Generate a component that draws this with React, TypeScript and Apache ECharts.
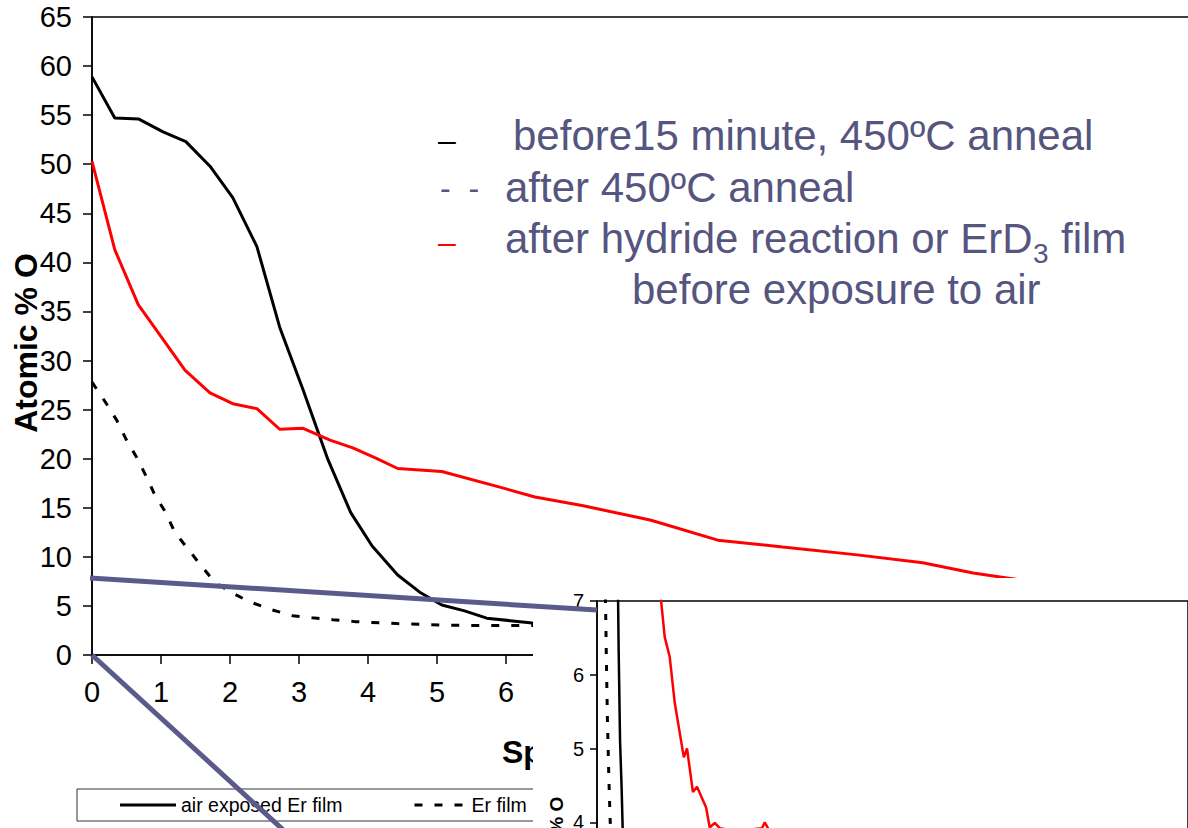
import React, { useEffect, useRef } from 'react';
import * as echarts from 'echarts';

// Sputter time (min) and atomic % O
const airTime = [0, 0.33, 0.68, 1.03, 1.36, 1.71, 2.04, 2.39, 2.72, 3.06, 3.42, 3.75, 4.06, 4.43, 4.75, 5.07, 5.4, 5.72, 6.06, 6.38, 6.8];
const airO = [58.9, 54.7, 54.6, 53.3, 52.3, 49.8, 46.6, 41.6, 33.4, 27.0, 19.9, 14.5, 11.1, 8.15, 6.4, 5.1, 4.5, 3.75, 3.5, 3.25, 3.1];

const annTime = [0, 0.2, 0.36, 0.5, 0.65, 0.8, 0.91, 1.07, 1.2, 1.38, 1.57, 1.78, 2.04, 2.29, 2.61, 2.91, 3.19, 3.49, 3.81, 4.42, 5.07, 5.72, 6.38, 6.8];
const annO = [27.8, 25.7, 23.9, 21.9, 20.1, 18.0, 16.3, 14.5, 12.5, 10.9, 9.2, 7.4, 6.3, 5.4, 4.6, 4.0, 3.8, 3.6, 3.4, 3.2, 3.05, 3.0, 3.0, 2.95];

const hydTime = [0, 0.33, 0.67, 1.35, 1.71, 2.04, 2.39, 2.72, 3.06, 3.45, 3.78, 4.13, 4.43, 5.07, 5.91, 6.42, 7.12, 8.09, 9.07, 10.01, 11.09, 12.04, 12.77, 13.26, 14.1, 14.9, 16.0, 17.1, 19.1, 19.8, 21.1, 22.0, 24.0, 24.8, 25.9, 27.0, 30.5, 33.5, 36.3, 36.9, 38.2];
const hydO = [50.3, 41.3, 35.7, 29.0, 26.7, 25.6, 25.1, 23.0, 23.1, 21.9, 21.1, 20.0, 19.0, 18.7, 17.1, 16.1, 15.2, 13.75, 11.7, 11.0, 10.2, 9.4, 8.35, 7.85, 7.0, 6.51, 6.24, 5.62, 4.88, 5.0, 4.41, 4.48, 4.2, 3.93, 3.99, 3.92, 3.88, 3.9, 3.92, 4.0, 3.85];

const seriesNames = ['air exposed Er film', 'Er film', 'ErD3 film'];
const annotationLines = [
  'before15 minute, 450ºC anneal',
  'after 450ºC anneal',
  'after hydride reaction or ErD',
  '3',
  'film',
  'before exposure to air',
];
const mainLastXLabel = 6;

const pairs = (xs: number[], ys: number[]) => xs.map((x, i) => [x, ys[i]]);

export default function App() {
  const ref = useRef<HTMLDivElement>(null);
  useEffect(() => {
    const chart = echarts.init(ref.current!, null, { renderer: 'svg' });
    const font = 'Liberation Sans, Arial, sans-serif';
    const slate = '#55557f';
    const blue = '#5b5b8b';
    const axisLine = { show: true, onZero: false, lineStyle: { color: '#000', width: 1.5 } };
    chart.setOption({
      animation: false,
      textStyle: { fontFamily: font },
      grid: [
        { left: 92, top: 17, right: -8, bottom: 173, outerBoundsMode: 'none', containLabel: false, show: true, borderColor: '#000', borderWidth: 1.5, backgroundColor: 'transparent', z: 0 },
        { left: 597, top: 601, right: 0, bottom: -68, outerBoundsMode: 'none', containLabel: false, show: true, borderColor: '#000', borderWidth: 1.5, backgroundColor: 'transparent', z: 6 },
      ],
      xAxis: [
        {
          gridIndex: 0, type: 'value', min: 0, max: 16, interval: 1,
          axisLine, axisTick: { show: true, length: 9, lineStyle: { color: '#000', width: 1.5 } },
          axisLabel: {
            fontSize: 29, color: '#000', margin: 22, fontFamily: font,
            formatter: (v: number) => (v <= mainLastXLabel ? String(v) : ''),
          },
          splitLine: { show: false },
        },
        { gridIndex: 1, type: 'value', min: 0, max: 130, show: false, splitLine: { show: false } },
      ],
      yAxis: [
        {
          gridIndex: 0, type: 'value', min: 0, max: 65, interval: 5,
          axisLine, axisTick: { show: true, length: 9, lineStyle: { color: '#000', width: 1.5 } },
          axisLabel: { fontSize: 29, color: '#000', margin: 20, fontFamily: font },
          splitLine: { show: false },
        },
        {
          gridIndex: 1, type: 'value', min: 3, max: 7, interval: 1, z: 6,
          axisLine, axisTick: { show: true, length: 7, lineStyle: { color: '#000', width: 1.5 } },
          axisLabel: { fontSize: 20, color: '#000', margin: 13, fontFamily: font },
          splitLine: { show: false },
        },
      ],
      legend: {
        left: 77, top: 789, orient: 'horizontal',
        data: [
          { name: seriesNames[0], icon: 'path://M0,0h56v3h-56z' },
          { name: seriesNames[1], icon: 'path://M0,0h8v3h-8z M20,0h8v3h-8z M40,0h8v3h-8z' },
        ],
        itemWidth: 56, itemHeight: 3, itemGap: 72, padding: [6, 40, 6, 43],
        itemStyle: { color: '#000', borderWidth: 0 },
        borderColor: '#333', borderWidth: 1, selectedMode: false, z: 3,
        textStyle: { fontSize: 19.5, color: '#000', fontFamily: font, lineHeight: 18 },
      },
      series: [
        { name: seriesNames[0], type: 'line', xAxisIndex: 0, yAxisIndex: 0, data: pairs(airTime, airO), symbol: 'none', lineStyle: { color: '#000', width: 3 }, itemStyle: { color: '#000' }, z: 2 },
        { name: seriesNames[1], type: 'line', xAxisIndex: 0, yAxisIndex: 0, data: pairs(annTime, annO), symbol: 'none', lineStyle: { color: '#000', width: 3, type: [8, 12] }, itemStyle: { color: '#000' }, z: 2 },
        { name: seriesNames[2], type: 'line', xAxisIndex: 0, yAxisIndex: 0, data: pairs(hydTime, hydO), symbol: 'none', lineStyle: { color: '#ff0000', width: 3 }, itemStyle: { color: '#ff0000' }, z: 2 },
        { name: seriesNames[0], type: 'line', xAxisIndex: 1, yAxisIndex: 1, data: pairs(airTime, airO), symbol: 'none', lineStyle: { color: '#000', width: 2.5 }, itemStyle: { color: '#000' }, z: 7 },
        { name: seriesNames[1], type: 'line', xAxisIndex: 1, yAxisIndex: 1, data: pairs(annTime, annO), symbol: 'none', lineStyle: { color: '#000', width: 3, type: [6, 11] }, itemStyle: { color: '#000' }, z: 7 },
        { name: seriesNames[2], type: 'line', xAxisIndex: 1, yAxisIndex: 1, data: pairs(hydTime, hydO), symbol: 'none', lineStyle: { color: '#ff0000', width: 2.5 }, itemStyle: { color: '#ff0000' }, z: 7 },
      ],
      graphic: [
        { type: 'text', z: 3, x: 26, y: 343, rotation: Math.PI / 2, style: { text: 'Atomic % O', font: `bold 32px ${font}`, fill: '#000', textAlign: 'center', textVerticalAlign: 'middle' } },
        { type: 'text', z: 3, x: 502, y: 752, style: { text: 'Sputter Time (min)', font: `bold 32px ${font}`, fill: '#000', textAlign: 'left', textVerticalAlign: 'middle' } },
        { type: 'rect', z: 5, shape: { x: 533, y: 578, width: 700, height: 300 }, style: { fill: '#fff' } },
        { type: 'text', z: 8, x: 556, y: 850, rotation: Math.PI / 2, style: { text: 'Atomic % O', font: `bold 19px ${font}`, fill: '#000', textAlign: 'center', textVerticalAlign: 'middle' } },
        { type: 'line', z: 10, shape: { x1: 90, y1: 578, x2: 597, y2: 610 }, style: { stroke: blue, lineWidth: 5 } },
        { type: 'line', z: 10, shape: { x1: 92, y1: 655, x2: 597, y2: 1117 }, style: { stroke: blue, lineWidth: 5 } },
        { type: 'text', z: 10, x: 438, y: 139.5, style: { text: '–', font: `32px ${font}`, fill: '#000', textAlign: 'left', textVerticalAlign: 'middle' } },
        { type: 'text', z: 10, x: 513, y: 135.4, style: { text: annotationLines[0], font: `42px ${font}`, fill: slate, textAlign: 'left', textVerticalAlign: 'middle' } },
        { type: 'text', z: 10, x: 440, y: 187.6, style: { text: '-\u00a0\u00a0-', font: `32px ${font}`, fill: slate, textAlign: 'left', textVerticalAlign: 'middle' } },
        { type: 'text', z: 10, x: 505, y: 187.4, style: { text: annotationLines[1], font: `42px ${font}`, fill: slate, textAlign: 'left', textVerticalAlign: 'middle' } },
        { type: 'text', z: 10, x: 438, y: 241.5, style: { text: '–', font: `32px ${font}`, fill: '#ff0000', textAlign: 'left', textVerticalAlign: 'middle' } },
        { type: 'text', z: 10, x: 505, y: 238.4, style: { text: annotationLines[2], font: `42px ${font}`, fill: slate, textAlign: 'left', textVerticalAlign: 'middle' } },
        { type: 'text', z: 10, x: 1033, y: 253, style: { text: annotationLines[3], font: `28px ${font}`, fill: slate, textAlign: 'left', textVerticalAlign: 'middle' } },
        { type: 'text', z: 10, x: 1061, y: 238.4, style: { text: annotationLines[4], font: `42px ${font}`, fill: slate, textAlign: 'left', textVerticalAlign: 'middle' } },
        { type: 'text', z: 10, x: 632, y: 289.4, style: { text: annotationLines[5], font: `42px ${font}`, fill: slate, textAlign: 'left', textVerticalAlign: 'middle' } },
      ],
    });
    return () => chart.dispose();
  }, []);
  return <div ref={ref} style={{ position: 'absolute', left: 0, top: 0, width: 1188, height: 828 }} />;
}
